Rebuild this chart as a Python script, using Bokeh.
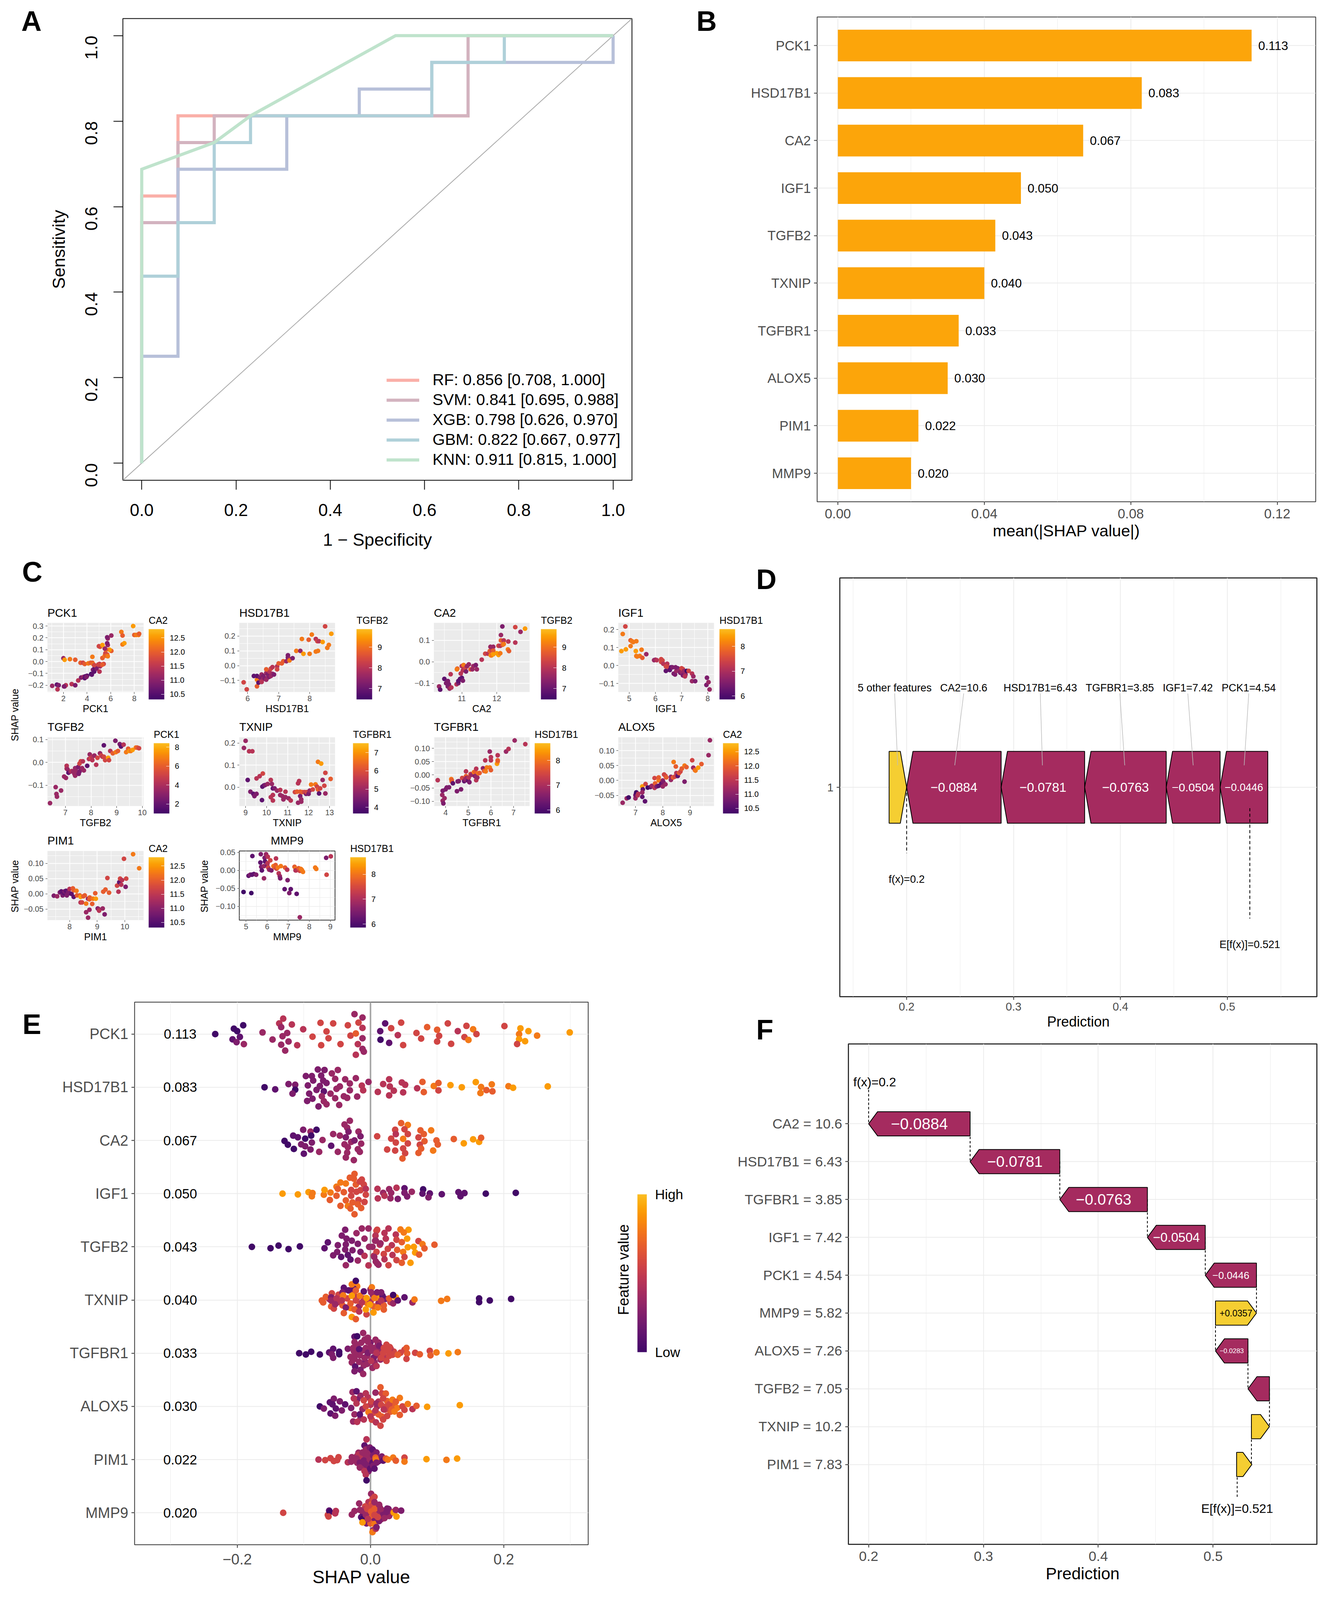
from math import pi
from bokeh.embed import file_html
from bokeh.resources import INLINE
from bokeh.plotting import figure
from bokeh.layouts import column
from bokeh.models import (Range1d, FixedTicker, CustomJSTickFormatter, Label, Legend, LegendItem,
                          ColorBar, LinearColorMapper, Spacer, ColumnDataSource, PrintfTickFormatter)
from bokeh.palettes import Inferno256
from bokeh.transform import linear_cmap

FONT = "Liberation Sans"
PAL = list(Inferno256[51:218])
S = 0.908  # vertical fit of the layout into the height the browser actually shows

# ---------------- Panel A : ROC curves
ROC_NAMES = ["RF", "SVM", "XGB", "GBM", "KNN"]
ROC_LABELS = ["RF: 0.856 [0.708, 1.000]", "SVM: 0.841 [0.695, 0.988]", "XGB: 0.798 [0.626, 0.970]",
              "GBM: 0.822 [0.667, 0.977]", "KNN: 0.911 [0.815, 1.000]"]
ROC_COLORS = ["#FAAFA8", "#D3B3BF", "#B7C0D9", "#AFD0D9", "#BFE3CC"]
RF_X = [0, 0, .0769, .0769, .6923, .6923, 1]
RF_Y = [0, .625, .625, .8125, .8125, 1, 1]
SVM_X = [0, 0, .0769, .0769, .1538, .1538, .6923, .6923, 1]
SVM_Y = [0, .5625, .5625, .75, .75, .8125, .8125, 1, 1]
XGB_X = [0, 0, .0769, .0769, .3077, .3077, .4615, .4615, .6154, .6154, 1, 1]
XGB_Y = [0, .25, .25, .6875, .6875, .8125, .8125, .875, .875, .9375, .9375, 1]
GBM_X = [0, 0, .0769, .0769, .1538, .1538, .2308, .2308, .6154, .6154, .7692, .7692, 1]
GBM_Y = [0, .4375, .4375, .5625, .5625, .75, .75, .8125, .8125, .9375, .9375, 1, 1]
KNN_X = [0, 0, .1538, .2308, .5385, 1]
KNN_Y = [0, .6875, .75, .8125, 1, 1]

# ---------------- Panel B and E shared features
FEATURES = ["PCK1", "HSD17B1", "CA2", "IGF1", "TGFB2", "TXNIP", "TGFBR1", "ALOX5", "PIM1", "MMP9"]
MEAN_SHAP = [0.113, 0.083, 0.067, 0.050, 0.043, 0.040, 0.033, 0.030, 0.022, 0.020]

# ---------------- Panel C : (feature value, SHAP value, colour level 0-9)
PCK1_PTS = [(1.05,-.205,3),(1.45,-.195,1),(1.6,-.2,2),(1.5,-.235,4),(2.1,-.21,3),(2.2,-.2,4),(2.05,-.21,2),(2.7,-.19,4),(3.0,-.2,2),(3.25,-.16,4),(3.5,-.135,2),(3.7,-.13,3),(3.8,-.14,1),(3.85,-.125,1),(4.0,-.12,1),(3.95,-.13,2),(4.35,-.105,0),(4.4,-.11,1),(4.5,-.07,2),(4.6,-.085,1),(4.65,-.05,1),(4.8,-.06,2),(5.05,-.085,4),(5.1,-.04,3),(5.05,-.02,4),(5.4,-.02,5),(2.0,.028,3),(2.1,.015,8),(2.55,.02,7),(3,.015,6),(3.45,-.01,6),(3.65,-.01,5),(3.8,-.02,6),(4.1,-.015,7),(4.3,-.01,6),(4.45,-.01,6),(4.55,-.025,7),(4.6,-.03,5),(4.95,-.025,5),(5.2,-.03,5),(5.3,-.025,6),(4.45,.04,7),(5.3,.03,6),(5.5,.05,7),(5.7,.06,6),(5.55,.07,5),(5.6,.05,6),(5.75,.045,7),(6.05,.09,6),(5.9,.1,8),(5.6,.1,6),(5.5,.11,3),(5.1,.125,6),(5,.13,5),(5.3,.14,8),(5.75,.14,3),(5.7,.155,2),(5.75,.195,3),(5.7,.205,2),(6.05,.22,3),(6.9,.25,7),(7.0,.22,6),(7.0,.145,7),(7.15,.155,8),(7.9,.3,8),(8.0,.225,6),(8.15,.225,7),(8.35,.225,7),(8.4,.235,6)]
HSD17B1_PTS = [(5.87,-.113,5),(5.97,-.16,5),(6.3,-.14,6),(6.35,-.105,4),(6.3,-.095,7),(6.2,-.07,1),(6.3,-.07,1),(6.35,-.115,1),(6.4,-.08,2),(6.45,-.06,3),(6.5,-.07,2),(6.5,-.09,3),(6.45,-.11,4),(6.55,-.085,2),(6.6,-.05,3),(6.6,-.095,3),(6.65,-.06,2),(6.7,-.04,4),(6.65,-.08,3),(6.7,-.075,2),(6.75,-.07,3),(6.8,-.055,3),(6.6,-.025,6),(6.75,-.02,5),(6.85,-.06,2),(6.8,-.01,4),(6.95,-.005,4),(6.95,-.025,5),(7.0,.015,6),(7.1,.015,6),(7.15,.03,6),(7.25,.03,3),(7.3,.07,2),(7.3,.055,2),(7.35,.045,3),(7.35,.035,7),(7.45,.05,2),(7.57,.1,7),(7.7,.1,3),(7.75,.18,7),(7.8,.08,8),(7.97,.175,6),(8.0,.08,7),(8.07,.21,7),(8.2,.18,4),(8.25,.165,5),(8.3,.165,4),(8.2,.095,7),(8.27,.1,7),(8.42,.16,8),(8.57,.12,7),(8.62,.14,7),(8.5,.265,5),(8.7,.215,8)]
CA2_PTS = [(10.35,-.115,3),(10.38,-.13,1),(10.5,-.08,1),(10.55,-.1,2),(10.6,-.09,2),(10.6,-.115,2),(10.65,-.125,3),(10.63,-.105,2),(10.7,-.12,4),(10.68,-.058,4),(10.85,-.105,4),(10.87,-.032,6),(10.86,-.035,7),(10.9,-.1,2),(10.9,-.09,1),(10.95,-.08,1),(11,-.075,1),(10.97,-.055,4),(11.03,-.088,2),(11,-.02,4),(11.03,-.04,4),(11.05,-.015,7),(11.1,-.03,5),(11.12,-.045,2),(11.15,-.02,3),(11.2,-.012,3),(11.25,-.035,6),(11.3,-.035,3),(11.33,-.02,3),(11.4,-.015,2),(11.43,-.035,3),(11.57,.01,4),(11.67,.038,5),(11.75,.038,4),(11.8,.05,6),(11.83,.03,8),(11.85,.03,7),(11.85,.055,5),(11.82,.07,3),(11.9,.07,3),(11.9,.052,6),(11.9,.035,8),(12,.04,8),(12.05,.032,8),(12.05,.075,5),(12.1,.04,7),(12.1,.075,4),(12.12,.1,6),(12.12,.125,3),(12.16,.165,2),(12.17,.08,6),(12.2,.1,4),(12.2,.083,7),(12.32,.058,7),(12.35,.05,6),(12.33,.095,4),(12.53,.09,4),(12.53,.162,5),(12.68,.14,3),(12.81,.155,8)]
IGF1_PTS = [(4.85,.217,5),(4.75,.175,7),(4.7,.08,8),(4.87,.09,8),(5.05,.14,6),(5.1,.135,7),(5.15,.13,7),(5.05,.108,7),(5.27,.135,7),(5.25,.08,8),(5.27,.053,7),(5.3,.05,7),(5.4,.053,7),(5.47,.088,7),(5.5,.043,6),(5.65,.063,3),(5.95,.03,3),(6,.032,3),(6.05,.03,4),(6.22,.035,5),(6.22,.02,5),(6.27,.028,5),(6.3,.01,4),(6.4,-.03,1),(6.45,.01,4),(6.4,-.005,5),(6.5,-.01,5),(6.55,-.025,1),(6.6,-.01,1),(6.65,-.01,2),(6.7,-.045,2),(6.75,-.05,2),(6.77,-.01,2),(6.8,-.03,3),(6.85,-.015,2),(6.9,-.03,3),(6.95,-.04,2),(7,-.015,5),(7,-.035,3),(7.05,-.055,2),(7.05,-.02,5),(7.1,-.03,3),(7.15,-.05,3),(7.13,-.06,4),(7.2,-.03,0),(7.27,-.03,5),(7.4,-.045,4),(7.45,-.06,3),(7.4,-.087,3),(7.52,-.087,2),(7.95,-.108,2),(7.97,-.068,2),(8.03,-.092,3),(8.07,-.133,3)]
TGFB2_PTS = [(6.4,-.178,3),(6.62,-.108,3),(6.65,-.138,3),(6.67,-.15,3),(6.83,-.123,3),(6.95,-.062,3),(7.02,-.068,3),(7.05,-.015,4),(7.05,-.027,4),(7.08,-.03,3),(7.12,-.045,1),(7.2,-.04,3),(7.25,-.038,4),(7.3,-.04,3),(7.35,-.05,3),(7.4,-.03,3),(7.38,-.058,3),(7.38,-.025,3),(7.42,-.045,3),(7.5,-.02,2),(7.52,-.05,2),(7.55,-.04,2),(7.55,-.005,5),(7.6,.005,5),(7.62,-.03,2),(7.65,-.025,3),(7.68,.005,4),(7.72,-.035,3),(7.85,-.015,1),(7.92,.015,4),(7.95,.035,3),(8,.02,5),(8.05,.01,4),(8.05,.025,4),(8.13,.03,3),(8.2,-.01,4),(8.25,.02,5),(8.35,.04,3),(8.4,.03,5),(8.45,.025,4),(8.5,.075,1),(8.5,.025,5),(8.55,.01,5),(8.67,.02,8),(8.7,.01,5),(8.75,.05,4),(8.85,.04,6),(8.95,.095,2),(8.97,.045,7),(9.05,.05,6),(9.12,.08,2),(9.17,.07,1),(9.27,.078,4),(9.37,.045,7),(9.45,.06,6),(9.5,.05,8),(9.55,.05,7),(9.62,.055,8),(9.75,.065,7),(9.8,.065,6),(9.87,.062,5)]
TXNIP_PTS = [(8.92,.178,3),(9,.21,3),(9.17,.163,4),(9.32,.163,4),(9.1,.033,1),(9.23,-.02,2),(9.37,-.03,1),(9.42,-.04,2),(9.52,-.03,2),(9.52,.04,4),(9.67,.05,4),(9.82,.062,5),(9.78,-.058,1),(9.8,.003,1),(9.87,.008,1),(9.93,.01,2),(10.05,.015,3),(10.2,.033,4),(10.25,.015,3),(10.3,-.005,1),(10.38,-.005,2),(10.2,-.045,4),(10.3,-.06,4),(10.3,-.035,4),(10.5,-.015,3),(10.65,-.012,4),(10.65,-.035,3),(10.75,-.04,3),(10.8,-.055,3),(10.9,-.045,3),(10.9,-.02,4),(11.05,-.05,3),(11.15,-.06,4),(11.35,-.022,5),(11.45,-.02,6),(11.5,.018,4),(11.55,.028,4),(11.5,-.07,3),(11.6,-.02,6),(11.6,-.04,2),(11.65,-.065,3),(11.65,-.055,3),(11.7,-.022,6),(11.8,-.022,5),(11.88,-.03,2),(11.9,-.022,5),(12,-.03,2),(12.05,-.015,3),(12.12,.012,7),(12.2,-.01,5),(12.33,.013,7),(12.4,.003,5),(12.45,-.01,6),(12.5,-.028,1),(12.45,.115,7),(12.6,.107,8),(12.55,-.005,5),(12.67,.033,3),(12.75,.007,5),(12.8,-.028,3),(12.8,.065,5),(13.05,.038,6)]
TGFBR1_PTS = [(3.65,-.02,4),(3.85,-.076,3),(3.87,-.06,2),(3.87,-.098,3),(3.9,-.108,2),(3.95,-.088,3),(4.0,-.055,2),(4.05,-.048,2),(4.15,-.047,2),(4.25,-.016,7),(4.27,-.02,6),(4.27,-.025,6),(4.32,-.032,1),(4.5,-.062,2),(4.53,-.025,2),(4.58,-.024,2),(4.68,-.055,2),(4.73,-.012,5),(4.82,-.024,1),(4.87,-.02,2),(4.88,-.015,3),(4.9,.013,4),(4.9,-.005,6),(4.92,-.012,3),(5,-.022,1),(5.02,-.01,4),(5.05,-.028,2),(5.1,.003,5),(5.15,.0,3),(5.25,.01,7),(5.3,.012,6),(5.3,-.005,2),(5.35,.023,4),(5.35,-.005,3),(5.35,-.02,4),(5.4,-.01,3),(5.45,.006,7),(5.5,.007,6),(5.65,.025,3),(5.7,.022,2),(5.7,.015,6),(5.75,.055,4),(5.77,.013,7),(5.82,.028,7),(5.95,.028,7),(5.95,.088,3),(6,.067,4),(6,.055,4),(6.0,.018,6),(6.27,.042,8),(6.3,.05,7),(6.3,.055,6),(6.3,.074,4),(6.67,.088,3),(6.78,.098,4),(7.05,.13,3),(7.52,.116,4)]
ALOX5_PTS = [(6.53,-.075,3),(6.68,-.06,3),(6.75,-.057,0),(7,-.06,3),(7.0,-.05,2),(7.02,-.045,1),(7.03,-.04,0),(7.08,-.05,4),(7.1,-.045,4),(7.25,-.055,1),(7.25,-.02,8),(7.27,-.03,1),(7.25,-.04,3),(7.35,-.07,1),(7.37,-.012,5),(7.45,-.024,0),(7.55,-.022,1),(7.6,-.018,3),(7.7,-.025,4),(7.7,.008,5),(7.72,-.01,6),(7.78,-.02,2),(7.85,.0,7),(7.85,-.018,1),(7.85,.01,6),(7.95,-.01,1),(8,.0,3),(8,-.02,3),(8.02,-.005,2),(8.05,.02,5),(8.1,-.013,3),(8.1,.015,5),(8.13,.01,6),(8.3,.012,3),(8.3,.002,3),(8.38,.01,6),(8.4,.062,7),(8.45,.013,5),(8.48,.047,6),(8.5,.025,4),(8.55,.015,1),(8.6,.025,6),(8.65,.03,5),(8.7,.04,6),(8.8,-.004,2),(8.8,.05,7),(8.87,.045,6),(9.08,.068,5),(9.12,.043,3),(9.18,.035,6),(9.2,.033,7),(9.3,.043,8),(9.42,.055,6),(9.68,.085,3),(9.73,.135,3)]
PIM1_PTS = [(7.43,-.006,2),(7.55,-.008,3),(7.65,.005,2),(7.7,.008,1),(7.75,-.005,2),(7.8,.002,1),(7.82,.008,2),(7.87,.01,1),(7.9,-.005,2),(7.95,.005,2),(8,.016,4),(8,.002,2),(8.07,.0,1),(8.12,.018,6),(8.15,.012,6),(8.15,-.01,1),(8.25,.01,7),(8.27,-.005,6),(8.37,-.005,6),(8.4,-.01,8),(8.4,-.028,4),(8.45,-.028,5),(8.5,-.008,6),(8.55,-.005,6),(8.6,-.032,7),(8.6,-.06,3),(8.67,-.016,3),(8.67,-.078,3),(8.72,-.052,3),(8.72,-.018,6),(8.73,-.012,6),(8.82,-.033,6),(8.85,-.016,7),(8.93,.002,6),(8.95,-.016,8),(9.02,-.048,2),(9.05,-.05,3),(9.07,-.055,4),(9.2,-.048,3),(9.27,-.067,2),(9.22,.007,6),(9.3,.014,6),(9.37,.052,5),(9.43,.004,6),(9.72,.027,5),(9.77,.007,4),(9.8,.038,1),(9.83,.05,5),(9.9,.045,4),(9.87,.03,4),(9.97,.115,5),(10.03,.023,2),(10.05,.05,5),(10.3,.13,7),(10.52,.084,7)]
MMP9_PTS = [(4.88,-.06,0),(5.25,-.063,0),(5.3,.04,1),(5.12,-.015,1),(5.2,-.012,2),(5.28,-.012,1),(5.37,-.01,1),(5.48,-.012,2),(5.7,.045,2),(5.68,.022,1),(5.72,.01,2),(5.75,.0,1),(5.85,-.022,3),(5.88,.035,2),(5.9,.025,1),(5.85,.012,3),(5.95,.045,3),(6,.015,2),(6.03,.038,4),(6.02,.02,4),(6.05,.008,5),(6.1,.002,3),(6.15,.028,5),(6.2,.0,2),(6.3,.012,7),(6.37,.008,6),(6.42,.033,4),(6.4,.015,6),(6.45,.005,5),(6.5,.008,7),(6.55,-.008,4),(6.6,-.016,3),(6.62,-.022,2),(6.65,.012,7),(6.85,.008,6),(6.83,-.052,1),(6.95,.002,4),(6.97,-.027,2),(7.05,-.063,2),(7.12,-.052,1),(7.3,.01,6),(7.35,.005,7),(7.35,.0,3),(7.37,.0,4),(7.4,-.065,1),(7.5,.006,6),(7.55,-.001,5),(7.55,-.13,3),(7.6,.004,7),(7.65,.001,7),(7.7,-.004,7),(8.28,.008,7),(8.33,.004,7),(8.8,.035,2),(8.82,-.012,5),(9.02,.039,4)]

# ---------------- Panel E : (SHAP value, vertical jitter in rows, colour level 0-9)
SW_PCK1 = [(-.233,0,0),(-.205,.10,0),(-.2,.054,0),(-.191,.165,0),(-.196,-.054,1),(-.207,-.1,1),(-.201,-.153,2),(-.19,-.19,3),(-.162,.03,3),(-.147,-.103,3),(-.137,.2,4),(-.131,.29,4),(-.134,.13,3),(-.125,.02,3),(-.132,-.04,3),(-.118,.18,4),(-.123,-.14,3),(-.134,-.2,3),(-.128,-.31,3),(-.11,-.21,4),(-.101,.09,4),(-.087,-.05,5),(-.075,.21,5),(-.074,-.21,5),(-.066,.05,5),(-.063,-.08,5),(-.056,.2,5),(-.045,-.19,5),(-.034,.165,5),(-.03,-.03,5),(-.022,.01,6),(-.024,.375,3),(-.012,.31,3),(-.018,.215,5),(-.012,.115,4),(-.012,-.08,3),(-.019,-.19,4),(-.012,-.28,3),(-.01,-.33,3),(-.022,-.39,4),(.022,.2,1),(.0146,.054,1),(.015,-.107,0),(.028,-.165,1),(.031,.11,5),(.046,.215,5),(.041,-.02,4),(.049,-.207,5),(.069,.02,5),(.076,-.084,5),(.085,.13,6),(.1,.08,6),(.103,-.034,5),(.1,-.14,5),(.116,.2,5),(.121,-.184,5),(.131,.054,4),(.141,-.057,5),(.147,-.11,7),(.144,.153,5),(.154,.09,7),(.159,0,5),(.201,.15,5),(.225,.107,8),(.223,0,7),(.237,.054,8),(.25,-.03,7),(.223,-.096,8),(.232,-.134,8),(.22,-.188,5),(.299,.03,8)]
SW_HSD17B1 = [(-.159,0,0),(-.143,-.04,1),(-.123,.06,2),(-.113,.046,2),(-.113,-.046,0),(-.117,-.12,2),(-.097,.21,2),(-.088,.21,2),(-.086,.126,2),(-.094,.034,2),(-.092,-.12,2),(-.087,-.215,2),(-.095,-.257,2),(-.079,.333,2),(-.069,.325,2),(-.074,.22,2),(-.071,.126,2),(-.076,.023,2),(-.081,-.05,2),(-.07,-.077,1),(-.073,-.17,3),(-.07,-.264,3),(-.066,-.32,3),(-.078,-.36,2),(-.058,.26,3),(-.049,.325,3),(-.053,.157,3),(-.066,.08,2),(-.06,-.12,3),(-.053,-.207,3),(-.047,-.333,3),(-.051,-.03,3),(-.046,.015,3),(-.04,-.17,3),(-.035,-.2,3),(-.038,.15,3),(-.031,.07,3),(-.022,.17,3),(-.031,-.057,3),(-.02,-.176,3),(-.013,.03,4),(-.011,-.057,4),(-.003,.1,3),(.011,-.088,4),(.019,.06,4),(.028,.15,4),(.029,.015,4),(.028,-.153,4),(.035,-.065,4),(.047,.09,4),(.052,.046,4),(.049,-.096,4),(.07,-.02,4),(.078,.1,6),(.08,-.09,6),(.095,.023,7),(.102,.08,6),(.102,-.06,5),(.12,.04,8),(.137,0,8),(.158,.096,8),(.166,.004,7),(.174,-.054,6),(.182,.054,7),(.165,-.11,7),(.183,-.077,6),(.207,.02,7),(.214,-.01,8),(.266,.015,8)]
SW_CA2 = [(-.129,-.008,0),(-.124,-.08,0),(-.115,-.16,0),(-.116,.09,1),(-.109,.06,1),(-.101,.2,2),(-.098,.034,0),(-.104,-.073,2),(-.098,-.11,2),(-.09,-.17,2),(-.1,-.25,1),(-.09,.165,3),(-.089,.09,0),(-.088,-.04,2),(-.081,.2,0),(-.072,.008,3),(-.077,-.215,3),(-.059,-.1,1),(-.056,.12,3),(-.046,.09,3),(-.039,.3,3),(-.031,.37,3),(-.035,.24,3),(-.033,.165,2),(-.037,.06,2),(-.039,-.073,3),(-.029,-.027,3),(-.034,-.126,3),(-.049,-.215,3),(-.035,-.23,3),(-.037,-.32,3),(-.025,-.37,3),(-.018,.165,3),(-.015,.077,2),(-.024,0,2),(-.014,-.06,3),(-.019,-.165,3),(-.016,-.215,3),(.01,.077,5),(.025,-.17,5),(.031,.034,5),(.037,.2,5),(.038,.12,4),(.038,-.04,5),(.037,-.19,5),(.046,.326,6),(.056,.29,7),(.051,.21,5),(.056,.12,5),(.049,.03,7),(.056,-.057,5),(.049,-.15,5),(.052,-.24,5),(.048,-.34,6),(.075,.19,6),(.08,.12,6),(.072,.057,5),(.081,-.015,6),(.074,-.08,5),(.076,-.153,6),(.072,-.234,6),(.091,.19,7),(.099,0,6),(.101,-.077,6),(.094,-.19,7),(.125,.027,6),(.14,-.054,8),(.154,.02,8),(.163,-.027,8),(.166,.05,6)]
SW_IGF1 = [(-.132,0,8),(-.109,-.015,8),(-.093,.027,8),(-.087,.01,7),(-.088,-.05,7),(-.07,-.02,7),(-.069,.07,8),(-.06,.02,7),(-.061,-.12,6),(-.051,.13,7),(-.045,.21,7),(-.049,.09,6),(-.051,-.04,6),(-.045,-.23,6),(-.04,.027,6),(-.037,.19,7),(-.037,-.126,6),(-.034,-.234,7),(-.031,.3,6),(-.024,.37,6),(-.025,.28,6),(-.029,.07,5),(-.029,-.04,5),(-.027,-.165,6),(-.03,-.28,6),(-.024,-.387,6),(-.022,.17,6),(-.016,.226,5),(-.021,.035,5),(-.015,.065,5),(-.018,-.12,5),(-.019,-.2,6),(-.014,-.27,6),(-.013,.264,5),(-.01,.17,5),(-.007,.09,4),(-.007,-.02,5),(-.009,-.157,5),(.0105,.09,4),(.011,-.09,4),(.019,.015,3),(.021,-.04,4),(.028,.084,3),(.031,.015,3),(.03,-.088,3),(.039,.11,4),(.041,-.1,2),(.051,.1,1),(.051,.015,2),(.055,-.054,2),(.062,.034,3),(.079,.08,0),(.078,0,1),(.089,.004,1),(.087,-.07,2),(.107,-.011,1),(.132,.027,1),(.135,-.05,1),(.141,.01,1),(.173,0,0),(.218,.015,0)]
SW_TGFB2 = [(-.178,0,0),(-.15,-.027,0),(-.138,.023,0),(-.123,-.042,0),(-.106,.008,0),(-.069,-.027,1),(-.064,.084,1),(-.056,-.16,2),(-.05,-.096,2),(-.049,.03,2),(-.044,-.19,1),(-.043,.21,2),(-.038,.32,2),(-.036,.153,2),(-.037,.046,2),(-.038,-.05,2),(-.034,-.153,1),(-.03,-.24,1),(-.037,-.345,3),(-.028,.115,2),(-.027,-.065,2),(-.021,.257,3),(-.019,.057,2),(-.019,-.257,3),(-.015,-.096,2),(-.009,-.17,4),(-.013,.345,3),(-.009,.153,3),(-.003,.345,3),(-.002,0,3),(.003,0,3),(.009,.3,5),(.005,-.17,4),(.009,-.096,5),(-.003,-.35,4),(.01,-.31,3),(.007,.115,3),(.014,.04,4),(.01,.32,5),(.0075,.21,4),(.008,.115,3),(.015,.065,3),(.021,.26,4),(.027,.345,4),(.023,.153,4),(.032,.03,4),(.026,-.04,5),(.02,-.134,5),(.021,-.234,4),(.033,-.153,4),(.027,-.345,5),(.038,.23,4),(.039,.134,5),(.045,.326,7),(.057,.32,8),(.05,.27,7),(.055,.153,8),(.047,.088,6),(.04,-.057,6),(.049,-.096,7),(.039,-.25,5),(.051,-.19,5),(.047,-.3,6),(.06,-.3,8),(.056,-.008,8),(.065,0,8),(.067,-.107,8),(.073,-.146,6),(.072,.107,5),(.078,.05,7),(.081,-.03,6),(.096,.04,6),(.0056,-.19,3),(.008,-.276,3),(.012,-.337,3)]
SW_TXNIP = [(-.048,.1,5),(-.062,.02,4),(-.035,.03,5),(-.03,.18,5),(-.025,.1,6),(-.02,.05,4),(-.016,-.1,6),(-.01,.03,5),(-.005,-.06,7),(-.03,-.15,7),(-.018,-.13,3),(.0,-.03,4),(.004,.09,3),(.012,-.06,3),(.022,.02,2),(.01,.05,8),(.03,-.04,5),(.02,-.18,6),(-.042,-.1,6),(-.02,.26,7),(-.025,.21,1),(.0,.2,3),(.018,.08,1),(.005,-.12,6),(-.006,-.27,5),(-.073,-.008,6),(-.067,.06,6),(-.071,-.045,6),(-.058,.125,5),(-.059,-.12,6),(-.055,-.16,5),(-.059,.05,2),(-.059,-.008,3),(-.051,.03,4),(-.05,-.045,4),(-.053,-.08,3),(-.04,.23,1),(-.042,.144,2),(-.041,.087,7),(-.043,-.008,4),(-.037,-.14,2),(-.04,-.246,6),(-.033,.18,1),(-.028,.295,7),(-.028,.08,8),(-.03,-.064,6),(-.028,-.318,8),(-.022,.36,0),(-.022,.18,6),(-.022,-.008,5),(-.024,-.178,6),(-.022,-.36,6),(-.016,.08,7),(-.017,-.216,4),(-.01,.163,1),(-.013,-.045,4),(-.006,.038,8),(-.007,-.178,8),(.002,.24,7),(.001,.144,3),(.006,.038,7),(-.001,-.083,8),(.01,.144,2),(.016,.144,2),(.011,-.14,7),(.0045,-.235,8),(.02,-.1,6),(.016,-.008,4),(.028,.03,6),(.034,-.064,3),(.038,.05,8),(.034,.095,0),(.041,-.008,1),(.051,.05,1),(.063,-.045,3),(.066,.01,7),(.106,-.015,7),(.115,.02,7),(.163,.03,0),(.163,-.04,0),(.179,-.008,0),(.211,.02,0)]
SW_TGFBR1 = [(-.02,.15,3),(-.012,.05,3),(-.005,-.05,3),(.005,.1,3),(.0,.2,2),(.01,-.03,3),(.012,.06,3),(.015,-.12,3),(.006,-.17,3),(-.008,-.16,2),(.02,-.06,4),(.022,.05,4),(-.018,.0,3),(-.03,-.07,3),(-.01,-.23,3),(.0,.12,3),(.005,-.08,2),(.035,.03,5),(.033,-.03,5),(.03,.09,4),(.045,.01,5),(-.006,.27,3),(.012,.2,3),(-.107,0,0),(-.097,-.023,0),(-.089,.027,0),(-.076,-.023,0),(-.062,.015,1),(-.056,.083,1),(-.058,-.02,2),(-.056,-.087,2),(-.047,.027,0),(-.047,-.02,0),(-.034,.083,2),(-.026,.1,3),(-.024,.31,1),(-.02,.318,0),(-.024,.21,3),(-.028,-.174,3),(-.025,.038,3),(-.023,-.03,3),(-.024,-.106,3),(-.023,-.25,1),(-.024,-.34,2),(-.017,.076,1),(-.014,.197,3),(-.016,-.04,3),(-.017,-.163,3),(-.015,-.314,2),(-.011,.38,3),(-.011,-.39,3),(-.009,.254,3),(-.007,.1,3),(-.009,-.087,3),(-.004,.29,3),(-.004,.216,3),(-.004,.008,2),(-.005,-.2,3),(.001,-.144,4),(.003,.045,3),(.003,-.276,3),(.0075,.254,3),(.011,.178,3),(.013,.14,2),(.009,.008,4),(.016,-.087,5),(.009,-.24,4),(.02,.1,5),(.019,.008,5),(.024,.16,5),(.029,.114,5),(.027,.034,5),(.028,-.05,5),(.024,-.144,5),(.041,-.03,6),(.051,.064,5),(.054,.1,6),(.055,-.004,6),(.054,-.106,5),(.067,.008,5),(.074,-.02,6),(.089,.045,5),(.09,-.04,6),(.099,.015,7),(.117,-.004,8),(.131,.02,7)]
SW_ALOX5 = [(-.015,.2,3),(-.012,-.05,3),(-.02,.13,2),(.0,.03,4),(.005,-.12,5),(.012,.09,4),(.01,.0,3),(.024,.0,5),(.03,-.1,6),(.035,.02,6),(.025,.1,6),(.012,-.15,6),(.002,-.25,5),(-.004,.17,4),(.022,-.06,5),(.04,-.03,7),(-.015,-.22,3),(-.076,0,0),(-.07,-.04,2),(-.061,.076,1),(-.055,.144,2),(-.057,.038,1),(-.052,-.04,1),(-.06,-.133,1),(-.053,-.174,2),(-.046,.095,2),(-.043,-.076,2),(-.038,.038,1),(-.027,.27,3),(-.021,.284,1),(-.025,.15,4),(-.021,.057,4),(-.029,-.03,2),(-.024,-.15,3),(-.026,-.284,3),(-.02,-.29,4),(-.016,-.15,1),(-.007,.246,4),(-.01,.114,5),(-.007,0,5),(-.003,-.106,7),(-.01,-.246,4),(.001,.095,5),(0,-.19,4),(.0075,.258,3),(.015,.36,6),(.017,.246,5),(.023,.242,6),(.009,.057,3),(.019,.15,5),(.016,.03,5),(.0075,-.076,4),(.02,-.057,4),(.017,-.19,6),(.025,-.18,5),(.0082,-.3,4),(.015,-.364,5),(.019,-.246,5),(.028,.038,5),(.033,.125,7),(.044,.16,7),(.038,.087,6),(.032,-.057,6),(.036,-.095,7),(.044,-.16,6),(.048,0,5),(.051,-.064,5),(.056,.045,7),(.063,-.05,4),(.069,.01,6),(.085,-.008,8),(.134,.023,8)]
SW_PIM1 = [(-.012,.05,3),(-.012,-.08,2),(-.004,.13,2),(-.004,-.12,2),(.0,.05,3),(.0,-.03,2),(.002,.12,1),(.002,-.1,1),(-.007,-.16,3),(-.014,.02,4),(-.024,.0,3),(-.02,-.06,3),(-.02,.07,3),(.006,.1,1),(.006,-.03,2),(.011,.03,2),(.012,-.03,1),(-.002,.17,3),(-.003,-.22,2),(.014,.0,2),(.003,.03,4),(-.008,.0,3),(.003,-.14,3),(-.004,-.06,1),(-.018,.13,3),(-.078,0,4),(-.068,-.01,5),(-.06,.027,5),(-.055,-.027,5),(-.048,.045,5),(-.05,-.01,5),(-.034,-.05,4),(-.028,.045,3),(-.029,-.04,3),(-.018,.095,4),(-.021,.02,3),(-.016,-.057,2),(-.016,-.15,3),(-.012,.133,3),(-.009,.265,1),(-.006,.38,4),(-.007,.19,3),(-.007,.076,3),(-.01,-.02,2),(-.006,-.1,2),(-.009,-.216,4),(-.007,-.284,4),(-.006,-.39,0),(-.001,.227,2),(.001,.095,3),(-.001,0,3),(.003,-.057,1),(-.0004,-.17,1),(.003,.19,1),(.004,.17,1),(.009,.133,2),(.004,.076,2),(.0075,.038,6),(.008,0,7),(.004,-.114,2),(.009,-.057,2),(.006,-.17,1),(.017,.057,2),(.019,-.02,1),(.023,.02,6),(.026,0,7),(.034,.038,7),(.038,-.02,6),(.051,.038,5),(.051,-.038,7),(.084,.008,8),(.114,-.004,7),(.13,.02,8)]
SW_MMP9 = [(.0,.1,5),(.004,.05,5),(-.003,.02,4),(.004,-.1,4),(.0,-.15,5),(.008,.1,3),(.01,.02,3),(.012,-.02,3),(.008,-.06,4),(.014,.1,3),(.017,.05,2),(.018,-.08,2),(.02,.03,3),(.023,-.03,2),(.016,-.12,3),(.005,.16,5),(-.003,.2,4),(-.008,.12,5),(-.01,.06,4),(-.01,-.02,5),(-.012,.02,3),(.002,-.08,6),(-.002,.06,6),(.006,-.15,2),(.003,.0,6),(.002,.17,6),(.025,.08,2),(.03,-.01,3),(.028,-.06,3),(-.006,-.2,2),(-.131,0,5),(-.064,-.04,5),(-.062,.04,1),(-.061,.015,0),(-.052,.034,4),(-.053,-.01,4),(-.063,-.07,5),(-.028,-.034,3),(-.024,.034,3),(-.017,.174,3),(-.016,.053,3),(-.014,-.08,1),(-.012,-.117,0),(-.012,-.18,8),(-.007,-.04,3),(.001,.356,3),(.002,.13,5),(0,-.2,6),(-.005,.072,5),(-.004,-.117,4),(.001,.023,6),(.006,.3,5),(.003,.26,5),(.006,.2,3),(.006,.072,6),(.006,-.04,5),(.006,-.212,7),(.004,-.326,3),(.003,-.364,7),(.008,-.3,4),(.015,.072,3),(.019,-.04,2),(.024,.015,2),(.021,-.1,3),(.027,.072,2),(.034,.015,4),(.035,.004,8),(.039,-.07,8),(.038,.053,3),(.046,.04,2),(.013,-.155,2),(.013,.15,3),(.011,-.08,5),(.009,-.27,2)]

# ---------------- Panels D and F : force and waterfall plots
FX = 0.2
EFX = 0.521
D_OTHER = (0.1836, 0.2)
D_LABELS = ["CA2=10.6", "HSD17B1=6.43", "TGFBR1=3.85", "IGF1=7.42", "PCK1=4.54"]
D_STARTS = [0.2, 0.2884, 0.3665, 0.4428, 0.4932]
D_ENDS = [0.2884, 0.3665, 0.4428, 0.4932, 0.5378]
D_VALUES = ["\u22120.0884", "\u22120.0781", "\u22120.0763", "\u22120.0504", "\u22120.0446"]
D_SIZES = [33, 33, 33, 30, 27]
D_LABEL_X = [0.1888, 0.2534, 0.325, 0.3994, 0.463, 0.520]
D_LEAD_X = [0.1916, 0.245, 0.327, 0.404, 0.468, 0.5157]

F_LABELS = ["CA2 = 10.6", "HSD17B1 = 6.43", "TGFBR1 = 3.85", "IGF1 = 7.42", "PCK1 = 4.54",
            "MMP9 = 5.82", "ALOX5 = 7.26", "TGFB2 = 7.05", "TXNIP = 10.2", "PIM1 = 7.83"]
F_STARTS = [0.2, 0.2884, 0.3665, 0.4428, 0.4932, 0.5021, 0.5021, 0.5304, 0.5334, 0.5205]
F_ENDS = [0.2884, 0.3665, 0.4428, 0.4932, 0.5378, 0.5378, 0.5304, 0.5491, 0.5491, 0.5338]
F_SIGN = [-1, -1, -1, -1, -1, 1, -1, -1, 1, 1]
F_VALUES = ["\u22120.0884", "\u22120.0781", "\u22120.0763", "\u22120.0504", "\u22120.0446", "+0.0357", "\u22120.0283", "", "", ""]
F_SIZES = [40, 39, 39, 33, 26, 23, 17, 1, 1, 1]

PURPLE = "#A52B5F"
YELLOW = "#F5CE32"
GRID = "#EBEBEB"
TXT = "#4D4D4D"

children = []
NOTES = []


def fmt(n):
    return CustomJSTickFormatter(args=dict(n=n), code="return tick.toFixed(n).replace('-', '\\u2212')")


def mids(t):
    if len(t) < 2:
        return []
    d = t[1] - t[0]
    return [t[0] - d / 2] + [(a + b) / 2 for a, b in zip(t, t[1:])] + [t[-1] + d / 2]


def make(frame, xr, yr, pad, bg=None, outline=None, outline_w=2):
    L, T, R, B = frame
    T, B = round(T * S), round(B * S)
    pl, pt, pr, pb = pad
    w, h = R - L + pl + pr, B - T + pt + pb
    p = figure(width=w, height=h, x_range=Range1d(*xr), y_range=Range1d(*yr), min_border_left=pl, min_border_top=pt,
               min_border_right=pr, min_border_bottom=pb, toolbar_location=None, tools="", output_backend="svg",
               border_fill_color=None, background_fill_color=bg, outline_line_color=outline,
               outline_line_width=outline_w, frame_align=False)
    x0, y0 = L - pl, T - pt
    p.margin = (y0, 0, -(y0 + h), x0)
    children.append(p)
    return p


def note(X, Y, text, size, color="black", align="left", base="middle", angle=0, style="normal"):
    NOTES.append(Label(x=X, y=Y * S, text=text, text_font=FONT, text_font_size=f"{size}px", text_color=color,
                       text_align=align, text_baseline=base, angle=angle, text_font_style=style))


def style_axes(p, xticks, yticks, xfmt, yfmt, size, tick=8, xstand=6, ystand=6, line="#333333", w=2):
    for ax, t, f, st in ((p.xaxis[0], xticks, xfmt, xstand), (p.yaxis[0], yticks, yfmt, ystand)):
        ax.ticker = FixedTicker(ticks=list(t), minor_ticks=mids(list(t)))
        if f is not None:
            ax.formatter = f
        ax.axis_line_color = None
        ax.major_tick_line_color = line
        ax.major_tick_line_width = w
        ax.major_tick_out = tick
        ax.major_tick_in = 0
        ax.minor_tick_line_color = None
        ax.major_label_text_font = FONT
        ax.major_label_text_font_size = f"{size}px"
        ax.major_label_text_color = TXT
        ax.major_label_standoff = st
        ax.axis_label_text_font = FONT
        ax.axis_label_text_font_style = "normal"
        ax.axis_label_text_color = "black"


def grids(p, major, minor, wmaj=2, wmin=1):
    for g in (p.xgrid[0], p.ygrid[0]):
        g.grid_line_color = major
        g.grid_line_width = wmaj
        g.minor_grid_line_color = minor
        g.minor_grid_line_width = wmin


# ---------- A
A_F = (314, 52, 1617, 1354)
A_X, A_Y = (-0.04, 1.04), (-0.04, 1.04)
pa = make(A_F, A_X, A_Y, (300, 44, 60, 180), outline="black", outline_w=2)
style_axes(pa, [0, .2, .4, .6, .8, 1], [0, .2, .4, .6, .8, 1], fmt(1), fmt(1), 44, tick=24, xstand=36, ystand=57, line="black")
for ax in (pa.xaxis[0], pa.yaxis[0]):
    ax.major_label_text_color = "black"
pa.yaxis[0].major_label_orientation = pi / 2
pa.xgrid[0].grid_line_color = None
pa.ygrid[0].grid_line_color = None
pa.xaxis[0].axis_label = "1 \u2212 Specificity"
pa.yaxis[0].axis_label = "Sensitivity"
pa.xaxis[0].axis_label_text_font_size = "45px"
pa.yaxis[0].axis_label_text_font_size = "45px"
pa.xaxis[0].axis_label_standoff = 32
pa.yaxis[0].axis_label_standoff = 24
pa.line([-0.04, 1.04], [-0.04, 1.04], line_color="#A8A8A8", line_width=2)
roc_series = [(RF_X, RF_Y), (SVM_X, SVM_Y), (XGB_X, XGB_Y), (GBM_X, GBM_Y), (KNN_X, KNN_Y)]
items = []
for (xs, ys), col, lab in zip(roc_series, ROC_COLORS, ROC_LABELS):
    r = pa.line(xs, ys, line_color=col, line_width=8, line_join="miter")
    items.append(LegendItem(label=lab, renderers=[r]))
pa.add_layout(Legend(items=items, location=(675, 29), background_fill_alpha=0, border_line_color=None, padding=0, margin=0,
                     glyph_width=84, glyph_height=30, label_height=41, spacing=4, label_standoff=34,
                     label_text_font=FONT, label_text_font_size="41px", label_text_color="black"))
note(54, 59, "A", 72, base="alphabetic", style="bold")

# ---------- B
B_F = (2091, 47, 3367, 1414)
B_X, B_Y = (-0.00565, 0.1305), (0.4, 10.6)
pb = make(B_F, B_X, B_Y, (330, 40, 16, 110), outline="#333333")
rows = list(range(10, 0, -1))
style_axes(pb, [0, .04, .08, .12], rows, fmt(2), None, 34.5, tick=8, xstand=10, ystand=8)
pb.yaxis[0].ticker = FixedTicker(ticks=rows)
pb.yaxis[0].major_label_overrides = {r: f for r, f in zip(rows, FEATURES)}
grids(pb, GRID, None)
pb.xgrid[0].minor_grid_line_color = GRID
pb.xaxis[0].axis_label = "mean(|SHAP value|)"
pb.xaxis[0].axis_label_text_font_size = "41.5px"
pb.xaxis[0].axis_label_standoff = 5
pb.hbar(y=rows, left=0, right=MEAN_SHAP, height=0.667, fill_color="#FCA50A", line_color=None)
pb.text(x=MEAN_SHAP, y=rows, text=[f"{v:.3f}" for v in MEAN_SHAP], x_offset=17, text_baseline="middle",
        text_font={"value": FONT}, text_font_size={"value": "31.5px"}, text_color="black")
note(1782, 59, "B", 72, base="alphabetic", style="bold")

# ---------- C
COLS = [(121, 367), (612, 857), (1110, 1355), (1582, 1827)]
ROWS = [(1755, 1950), (2078, 2272), (2399, 2594)]
CB_BOTTOM = [1971, 2293, 2615]
TITLE_Y = [1727, 2049, 2370]
CB_TITLE_Y = [1748, 2070, 2392]
C_PANELS = [
    ("PCK1", PCK1_PTS, 0, 0, (.65, 8.78), (-.257, .327), [2, 4, 6, 8], [-.2, -.1, 0, .1, .2, .3], 0, 1, "CA2", 380, (10.32, 12.81), [10.5, 11, 11.5, 12, 12.5], "%.1f"),
    ("HSD17B1", HSD17B1_PTS, 0, 1, (5.73, 8.82), (-.178, .289), [6, 7, 8], [-.1, 0, .1, .2], 0, 1, "TGFB2", 912, (6.47, 9.88), [7, 8, 9], "%d"),
    ("CA2", CA2_PTS, 0, 2, (10.2, 12.94), (-.141, .182), [11, 12], [-.1, 0, .1], 0, 1, "TGFB2", 1384, (6.47, 9.88), [7, 8, 9], "%d"),
    ("IGF1", IGF1_PTS, 0, 3, (4.58, 8.24), (-.147, .237), [5, 6, 7, 8], [-.1, 0, .1, .2], 0, 1, "HSD17B1", 1841, (5.86, 8.7), [6, 7, 8], "%d"),
    ("TGFB2", TGFB2_PTS, 1, 0, (6.3, 10.05), (-.191, .11), [7, 8, 9, 10], [-.1, 0, .1], 0, 1, "PCK1", 393, (1.0, 8.42), [2, 4, 6, 8], "%d"),
    ("TXNIP", TXNIP_PTS, 1, 1, (8.7, 13.26), (-.085, .226), [9, 10, 11, 12, 13], [0, .1, .2], 0, 1, "TGFBR1", 903, (3.66, 7.52), [4, 5, 6, 7], "%d"),
    ("TGFBR1", TGFBR1_PTS, 1, 2, (3.48, 7.71), (-.118, .142), [4, 5, 6, 7], [-.1, -.05, 0, .05, .1], 0, 2, "HSD17B1", 1368, (5.86, 8.7), [6, 7, 8], "%d"),
    ("ALOX5", ALOX5_PTS, 1, 3, (6.37, 9.88), (-.086, .145), [7, 8, 9], [-.05, 0, .05, .1], 0, 2, "CA2", 1850, (10.32, 12.8), [10.5, 11, 11.5, 12, 12.5], "%.1f"),
    ("PIM1", PIM1_PTS, 2, 0, (7.2, 10.68), (-.086, .1405), [8, 9, 10], [-.05, 0, .05, .1], 0, 2, "CA2", 380, (10.32, 12.81), [10.5, 11, 11.5, 12, 12.5], "%.1f"),
    ("MMP9", MMP9_PTS, 2, 1, (4.68, 9.22), (-.138, .054), [5, 6, 7, 8, 9], [-.1, -.05, 0, .05], 0, 2, "HSD17B1", 896, (5.86, 8.69), [6, 7, 8], "%d"),
]
for name, pts, r, c, xr, yr, xt, yt, xd, yd, cbt, cbx, cbr, cbticks, cbf in C_PANELS:
    fr = (COLS[c][0], ROWS[r][0], COLS[c][1], ROWS[r][1])
    bw = name == "MMP9"
    p = make(fr, xr, yr, (113 if c == 0 else 118, 60, 132, 72), bg=None if bw else GRID, outline="#333333" if bw else None, outline_w=2)
    style_axes(p, xt, yt, fmt(xd), fmt(yd), 20, tick=5, xstand=4, ystand=5, w=1)
    if bw:
        grids(p, GRID, GRID, 1.5, 1)
    else:
        grids(p, "white", "white", 2, 1)
    p.xaxis[0].axis_label = name
    p.xaxis[0].axis_label_text_font_size = "25px"
    p.xaxis[0].axis_label_standoff = 2
    src = ColumnDataSource(dict(x=[t[0] for t in pts], y=[t[1] for t in pts], c=[t[2] for t in pts]))
    p.scatter("x", "y", source=src, size=12, line_color=None, fill_color=linear_cmap("c", PAL, 0, 9))
    if name == "MMP9":
        note((fr[0] + fr[2]) / 2, TITLE_Y[r], name, 29, align="center")
        note(522, 2498, "SHAP value", 25, align="center", angle=pi / 2)
    else:
        note(fr[0], TITLE_Y[r], name, 29)
    if name == "PCK1":
        note(37, 2015, "SHAP value", 25, align="center", angle=pi / 2)
    if name == "PIM1":
        note(37, 2498, "SHAP value", 25, align="center", angle=pi / 2)
    note(cbx, CB_TITLE_Y[r], cbt, 25)
    cm = LinearColorMapper(palette=PAL, low=cbr[0], high=cbr[1])
    cb = ColorBar(color_mapper=cm, location=(cbx - fr[0], round((fr[3] - CB_BOTTOM[r]) * S)), width=40, height=180, padding=0,
                  ticker=FixedTicker(ticks=cbticks), formatter=PrintfTickFormatter(format=cbf),
                  major_label_text_font=FONT, major_label_text_font_size="20px", major_label_text_color="black",
                  label_standoff=14, major_tick_line_color="white", major_tick_in=8, major_tick_out=0, minor_tick_line_color=None,
                  bar_line_color=None, border_line_color=None, background_fill_alpha=0)
    p.add_layout(cb)
note(56, 1612, "C", 72, base="alphabetic", style="bold")

# ---------- D
D_F = (2149, 1629, 3370, 2809)
D_X, D_Y = (0.1375, 0.5837), (0.4, 1.6)
pd_ = make(D_F, D_X, D_Y, (150, 25, 20, 90), outline="#333333", outline_w=3)
style_axes(pd_, [.2, .3, .4, .5], [1], fmt(1), fmt(0), 29, tick=8, xstand=7, ystand=8)
grids(pd_, GRID, None)
pd_.xgrid[0].minor_grid_line_color = GRID
pd_.xaxis[0].axis_label = "Prediction"
pd_.xaxis[0].axis_label_text_font_size = "36px"
pd_.xaxis[0].axis_label_standoff = 5
H = 0.103
N = 0.0059
dxs = [[D_OTHER[0], D_OTHER[1] - N, D_OTHER[1], D_OTHER[1] - N, D_OTHER[0]]]
dys = [[1 + H, 1 + H, 1, 1 - H, 1 - H]]
pd_.patches(dxs, dys, fill_color=YELLOW, line_color="black", line_width=2)
pd_.patches([[s, s + N, e, e, s + N] for s, e in zip(D_STARTS, D_ENDS)], [[1, 1 + H, 1 + H, 1 - H, 1 - H]] * 5,
            fill_color=PURPLE, line_color="black", line_width=2)
for s, e, t, sz in zip(D_STARTS, D_ENDS, D_VALUES, D_SIZES):
    pd_.add_layout(Label(x=(s + e) / 2, y=1, text=t, text_font=FONT, text_font_size=f"{sz}px", text_color="white",
                         text_align="center", text_baseline="middle"))
pd_.segment(x0=D_LABEL_X, y0=[1.269] * 6, x1=D_LEAD_X, y1=[1.063] * 6, line_color="#BDBDBD", line_width=1.5)
for x, t in zip(D_LABEL_X, ["5 other features"] + D_LABELS):
    pd_.add_layout(Label(x=x, y=1.285, text=t, text_font=FONT, text_font_size="27px", text_align="center", text_baseline="middle", text_color="black"))
pd_.segment(x0=[FX, EFX], y0=[1.0, 0.94], x1=[FX, EFX], y1=[0.811, 0.624], line_color="black", line_width=2, line_dash="8 6")
pd_.add_layout(Label(x=FX, y=0.736, text="f(x)=0.2", text_font=FONT, text_font_size="27px", text_align="center", text_baseline="middle", text_color="black"))
pd_.add_layout(Label(x=EFX, y=0.549, text="E[f(x)]=0.521", text_font=FONT, text_font_size="27px", text_align="center", text_baseline="middle", text_color="black"))
note(1935, 1633, "D", 72, base="alphabetic", style="bold")

# ---------- E
E_F = (344, 2825, 1505, 4355)
E_X, E_Y = (-0.354, 0.3267), (0.4, 10.6)
pe = make(E_F, E_X, E_Y, (336, 50, 265, 120), outline="#333333")
style_axes(pe, [-.2, 0, .2], rows, fmt(1), None, 38, tick=8, xstand=15, ystand=8)
pe.yaxis[0].ticker = FixedTicker(ticks=rows)
pe.yaxis[0].major_label_overrides = {r: f for r, f in zip(rows, FEATURES)}
grids(pe, GRID, None)
pe.xgrid[0].minor_grid_line_color = GRID
pe.xaxis[0].axis_label = "SHAP value"
pe.xaxis[0].axis_label_text_font_size = "46.5px"
pe.xaxis[0].axis_label_standoff = 3
pe.segment(x0=[0], y0=[E_Y[0]], x1=[0], y1=[E_Y[1]], line_color="#A6A6A6", line_width=4)
SW_ROWS = [SW_PCK1, SW_HSD17B1, SW_CA2, SW_IGF1, SW_TGFB2, SW_TXNIP, SW_TGFBR1, SW_ALOX5, SW_PIM1, SW_MMP9]
for row, sw in zip(rows, SW_ROWS):
    src = ColumnDataSource(dict(x=[t[0] for t in sw], y=[row + t[1] for t in sw], c=[t[2] for t in sw]))
    pe.scatter("x", "y", source=src, size=17, line_color=None, fill_color=linear_cmap("c", PAL, 0, 9))
pe.text(x=[-0.2856] * 10, y=rows, text=[f"{v:.3f}" for v in MEAN_SHAP], text_align="center", text_baseline="middle",
        text_font={"value": FONT}, text_font_size={"value": "34.5px"}, text_color="black")
cme = LinearColorMapper(palette=PAL, low=0, high=1)
pe.add_layout(ColorBar(color_mapper=cme, location=(1631 - E_F[0], round((E_F[3] - 3812) * S)), width=24, height=404, padding=0,
                       ticker=FixedTicker(ticks=[0, 1]), major_label_overrides={0: "Low", 1: "High"},
                       major_label_text_font=FONT, major_label_text_font_size="35px", major_label_text_color="black",
                       label_standoff=21, major_tick_line_color=None, minor_tick_line_color=None, bar_line_color=None,
                       border_line_color=None, background_fill_alpha=0))
note(1595, 3579, "Feature value", 38, align="center", angle=pi / 2)
note(57, 2887, "E", 72, base="alphabetic", style="bold")

# ---------- F
F_F = (2165, 2943, 3370, 4353)
F_X, F_Y = (0.1824, 0.5904), (-1.11, 12.11)
pf = make(F_F, F_X, F_Y, (280, 53, 20, 120), outline="#333333", outline_w=3)
frows = list(range(10, 0, -1))
style_axes(pf, [.2, .3, .4, .5], frows, fmt(1), None, 35.5, tick=8, xstand=10, ystand=8)
pf.yaxis[0].ticker = FixedTicker(ticks=frows)
pf.yaxis[0].major_label_overrides = {r: f for r, f in zip(frows, F_LABELS)}
grids(pf, GRID, None)
pf.xgrid[0].minor_grid_line_color = GRID
pf.xaxis[0].axis_label = "Prediction"
pf.xaxis[0].axis_label_text_font_size = "42.5px"
pf.xaxis[0].axis_label_standoff = 6
# connectors between consecutive bars
cx, cy0, cy1 = [], [], []
for i in range(9):
    edge_a = F_ENDS[i] if F_SIGN[i] < 0 else F_STARTS[i]
    cx.append(edge_a)
    cy0.append(frows[i])
    cy1.append(frows[i + 1])
pf.segment(x0=cx, y0=cy0, x1=cx, y1=cy1, line_color="black", line_width=2, line_dash="6 5")
pf.segment(x0=[FX, EFX], y0=[10.9, 1.0], x1=[FX, EFX], y1=[10, 0.1], line_color="black", line_width=2, line_dash="6 5")
H2, N2 = 0.32, 0.0078
for s, e, sg, y, t, sz in zip(F_STARTS, F_ENDS, F_SIGN, frows, F_VALUES, F_SIZES):
    if sg < 0:
        xs, ys = [s, s + N2, e, e, s + N2], [y, y + H2, y + H2, y - H2, y - H2]
    else:
        xs, ys = [s, e - N2, e, e - N2, s], [y + H2, y + H2, y, y - H2, y - H2]
    pf.patch(xs, ys, fill_color=PURPLE if sg < 0 else YELLOW, line_color="black", line_width=2)
    if t:
        pf.add_layout(Label(x=(s + e) / 2, y=y, text=t, text_font=FONT, text_font_size=f"{sz}px", text_align="center", text_baseline="middle",
                            text_color="white" if sg < 0 else "black"))
pf.add_layout(Label(x=0.2053, y=11.1, text="f(x)=0.2", text_font=FONT, text_font_size="32px", text_align="center", text_baseline="middle", text_color="black"))
pf.add_layout(Label(x=EFX, y=-0.17, text="E[f(x)]=0.521", text_font=FONT, text_font_size="32px", text_align="center", text_baseline="middle", text_color="black"))
note(1935, 2902, "F", 72, base="alphabetic", style="bold")

# ---------- text layer: a full-page transparent figure for panel letters and titles outside the frames
W, HT = 3390, 4080
top = figure(width=W, height=HT, x_range=Range1d(0, W), y_range=Range1d(HT, 0), min_border=0, toolbar_location=None,
             tools="", output_backend="svg", border_fill_color=None, background_fill_color=None, outline_line_color=None,
             frame_align=False, x_axis_location=None, y_axis_location=None)
top.grid.visible = False
for lab in NOTES:
    top.add_layout(lab)
top.margin = (0, 0, -HT, 0)
children.append(top)

children.append(Spacer(width=W, height=HT))
root = column(*children, spacing=0)
open("out.html", "w").write(file_html(root, INLINE))
